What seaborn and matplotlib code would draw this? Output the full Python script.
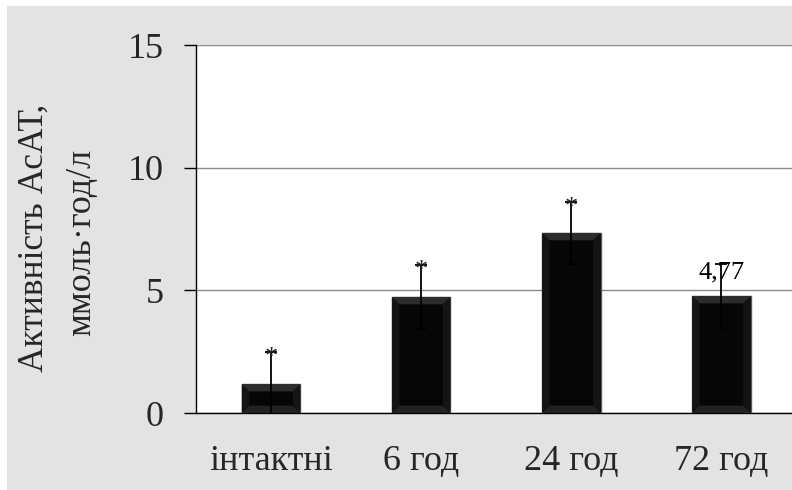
import matplotlib
matplotlib.use('Agg')
import matplotlib.pyplot as plt
import seaborn as sns
import pandas as pd
from matplotlib.patches import Rectangle, Polygon

groups = ['інтактні', '6 год', '24 год', '72 год']
values = [1.18, 4.73, 7.34, 4.77]
errors = [1.3, 1.3, 1.25, 1.3]
marks = ['*', '*', '*', '4,77']

df = pd.DataFrame({'group': groups, 'value': values})

sns.set_style('white')
plt.rcParams['font.family'] = ['Liberation Serif', 'DejaVu Serif']

fig = plt.figure(figsize=(7.92, 4.9), dpi=100)
fig.patch.set_facecolor('white')
# grey chart area
fig.patches.append(Rectangle((7 / 792, 0), 785 / 792, 484 / 490,
                             transform=fig.transFigure, facecolor='#e3e3e3',
                             edgecolor='none', zorder=-10))

ax = fig.add_axes([196 / 792, 1 - 413 / 490, 596 / 792, (413 - 45) / 490])
ax.set_facecolor('white')

sns.barplot(data=df, x='group', y='value', color='#060606', width=0.39,
            edgecolor='#5a5a5a', linewidth=1.0, saturation=1, ax=ax, zorder=3)

# bevel look on each bar
bx, by = 0.05, 0.3
for p in list(ax.patches):
    x0, y0 = p.get_x(), p.get_y()
    x1, y1 = x0 + p.get_width(), y0 + p.get_height()
    top = [(x0, y1), (x1, y1), (x1 - bx, y1 - by), (x0 + bx, y1 - by)]
    bot = [(x0, y0), (x1, y0), (x1 - bx, y0 + by), (x0 + bx, y0 + by)]
    lft = [(x0, y0), (x0, y1), (x0 + bx, y1 - by), (x0 + bx, y0 + by)]
    rgt = [(x1, y0), (x1, y1), (x1 - bx, y1 - by), (x1 - bx, y0 + by)]
    for pts, c in [(top, '#2c2c2c'), (bot, '#222222'), (lft, '#141414'), (rgt, '#141414')]:
        ax.add_patch(Polygon(pts, closed=True, facecolor=c, edgecolor='none', zorder=3.5))

# error bars
ax.errorbar(range(len(groups)), values, yerr=errors, fmt='none', ecolor='black',
            elinewidth=1.3, capsize=4, capthick=1.3, zorder=4)

for i, (v, e, m) in enumerate(zip(values, errors, marks)):
    if m == '*':
        ax.text(i, v + e - 0.25, m, ha='center', va='center', fontsize=19,
                color='#222222', zorder=5)
    else:
        ax.text(i, v + 0.5, m, ha='center', va='bottom', fontsize=19,
                color='black', zorder=5)

ax.set_ylim(0, 15)
ax.set_xlim(-0.5, 3.47)
ax.set_yticks([0, 5, 10, 15])
ax.yaxis.grid(True, color='#8c8c8c', linewidth=1)
ax.set_axisbelow(True)

ax.set_xticks(range(len(groups)))
ax.set_xticklabels(groups)
ax.set_xticks([-0.5, 0.5, 1.5, 2.5], minor=True)
ax.tick_params(axis='x', which='major', length=0, pad=23, labelsize=26)
ax.tick_params(axis='x', which='minor', length=8, width=1, direction='out', color='black')
ax.tick_params(axis='y', length=9, width=1, direction='out', color='black',
               pad=14, labelsize=26, left=True)

for s in ['top', 'right']:
    ax.spines[s].set_visible(False)
for s in ['left', 'bottom']:
    ax.spines[s].set_color('black')
    ax.spines[s].set_linewidth(1)

ax.set_xlabel('')
ax.set_ylabel('')

fig.text(34 / 792, 1 - 238 / 490, 'Активність АсАТ,', rotation=90,
         ha='center', va='center', fontsize=25.5)
fig.text(82 / 792, 1 - 242 / 490, 'ммоль·год/л', rotation=90,
         ha='center', va='center', fontsize=26)

fig.savefig('out.png', dpi=100)
